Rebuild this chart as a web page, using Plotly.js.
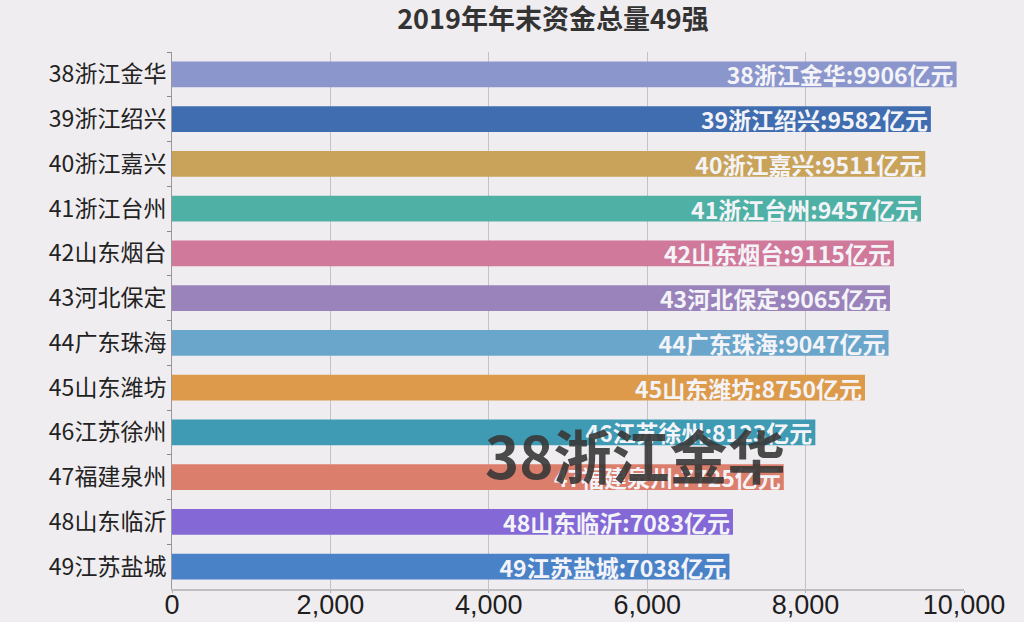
<!DOCTYPE html>
<html>
<head>
<meta charset="utf-8">
<script src="https://cdn.plot.ly/plotly-3.0.1.min.js"></script>
<style>html,body{margin:0;padding:0;background:#f0edf0;}#chart{width:1024px;height:622px;}</style>
</head>
<body>
<div id="chart"></div>
<script>
const cities = ["38浙江金华","39浙江绍兴","40浙江嘉兴","41浙江台州","42山东烟台","43河北保定","44广东珠海","45山东潍坊","46江苏徐州","47福建泉州","48山东临沂","49江苏盐城"];
const values = [9906, 9582, 9511, 9457, 9115, 9065, 9047, 8750, 8123, 7725, 7083, 7038];
const colors = ["#8b96cc","#3f6db0","#c9a35a","#4fb0a5","#d0799b","#9a83bb","#6aa6cc","#dc9a4a","#3e9bb3","#dc7e6c","#8368d6","#4a82c8"];
const xTicks = [0, 2000, 4000, 6000, 8000, 10000];
const titleText = "2019年年末资金总量49强";
const overlayText = "38浙江金华";

const labels = cities.map((c, i) => c + ":" + values[i] + "亿元");

const trace = {
  type: "bar",
  orientation: "h",
  y: cities,
  x: values,
  marker: {color: colors},
  text: labels,
  textposition: "inside",
  insidetextanchor: "end",
  constraintext: "none",
  textangle: 0,
  insidetextfont: {color: "#f4f4f8", size: 23, family: "Noto Sans CJK SC", weight: "bold"},
  hoverinfo: "none",
  cliponaxis: false
};

const layout = {
  width: 1024,
  height: 622,
  paper_bgcolor: "#f0edf0",
  plot_bgcolor: "#f0edf0",
  margin: {l: 172, r: 60, t: 52, b: 33},
  title: {text: "<b>" + titleText + "</b>", x: 0.54, xanchor: "center", y: 0.984, yanchor: "top",
          font: {size: 27, color: "#333333", family: "Noto Sans CJK SC"}},
  bargap: 0.42,
  showlegend: false,
  xaxis: {
    range: [0, 10000],
    tickvals: xTicks,
    tickformat: ",d",
    showgrid: true,
    gridcolor: "#c4c2c6",
    gridwidth: 1,
    zeroline: false,
    showline: true,
    linecolor: "#c0bec2",
    linewidth: 2,
    ticks: "outside",
    ticklen: 2,
    tickcolor: "#aaaaaa",
    ticklabelstandoff: -11,
    tickfont: {size: 27, color: "#1e1e1e", family: "Liberation Sans Narrow, sans-serif"},
    fixedrange: true
  },
  yaxis: {
    type: "category",
    autorange: "reversed",
    showgrid: false,
    showline: true,
    linecolor: "#999999",
    linewidth: 1,
    ticks: "outside",
    tickson: "boundaries",
    ticklen: 4,
    tickcolor: "#888888",
    tickfont: {size: 23, color: "#222222", family: "Noto Sans CJK SC"},
    fixedrange: true
  },
  annotations: [{
    text: "<b>" + overlayText + "</b>",
    xref: "paper", yref: "paper",
    x: 0.585, y: 0.252,
    xanchor: "center", yanchor: "middle",
    showarrow: false,
    font: {size: 58, color: "rgba(55,55,55,0.9)", family: "Noto Sans CJK SC"}
  }]
};

Plotly.newPlot("chart", [trace], layout, {displayModeBar: false, staticPlot: true});
</script>
</body>
</html>
